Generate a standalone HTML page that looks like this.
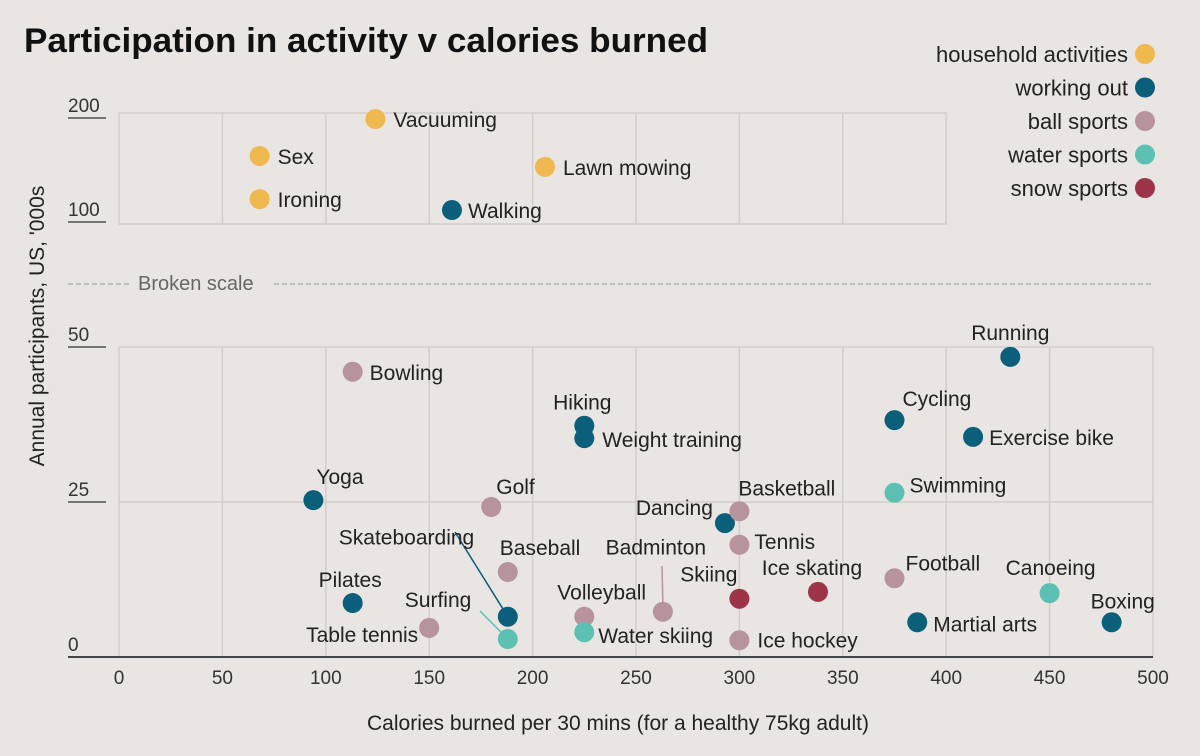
<!DOCTYPE html>
<html><head><meta charset="utf-8"><style>
html,body{margin:0;padding:0;background:#e8e5e3;}
svg{display:block;font-family:"Liberation Sans",sans-serif;}
</style></head><body>
<svg id="chart" width="1200" height="756" viewBox="0 0 1200 756">
<rect width="1200" height="756" fill="#e8e5e3"/>
<text x="24" y="52" font-size="34" font-weight="bold" fill="#111" textLength="684" lengthAdjust="spacingAndGlyphs">Participation in activity v calories burned</text>
<g id="grid"></g><g id="marks"></g><g id="legend"></g>
<text transform="translate(44,326) rotate(-90)" text-anchor="middle" font-size="21" fill="#222">Annual participants, US, '000s</text>
<text x="618" y="730" text-anchor="middle" font-size="21" fill="#222">Calories burned per 30 mins (for a healthy 75kg adult)</text>
</svg>
<script>
const names=["Vacuuming","Sex","Ironing","Lawn mowing","Walking","Running","Bowling","Hiking","Weight training","Cycling","Exercise bike","Yoga","Golf","Swimming","Dancing","Basketball","Tennis","Baseball","Football","Ice skating","Canoeing","Skiing","Pilates","Boxing","Martial arts","Skateboarding","Volleyball","Badminton","Table tennis","Water skiing","Surfing","Ice hockey"];
const calories=[124,68,68,206,161,431,113,225,225,375,413,94,180,375,293,300,300,188,375,338,450,300,113,480,386,188,225,263,150,225,188,300];
const participants=[199,163.5,122,153,111.5,48.4,46,37.3,35.3,38.2,35.5,25.3,24.2,26.5,21.6,23.5,18.1,13.7,12.7,10.5,10.3,9.4,8.7,5.6,5.6,6.5,6.5,7.3,4.7,4,2.9,2.7];
const groups=["h","h","h","h","w","w","b","w","w","w","w","w","b","s","w","b","b","b","b","n","s","n","w","w","w","w","b","b","b","s","s","b"];
const legendLabels=["household activities","working out","ball sports","water sports","snow sports"];
const legendKeys=["h","w","b","s","n"];
const xTicks=[0,50,100,150,200,250,300,350,400,450,500];
const lowTicks=[0,25,50];
const upTicks=[100,200];
const colors={h:"#f0b950",w:"#0b5f7a",b:"#b7949b",s:"#5cc1b3",n:"#9e3447"};
// label placement: [dx, dy, anchor]
const lab={"Vacuuming":[18,8,"start"],"Sex":[18,8,"start"],"Ironing":[18,8,"start"],"Lawn mowing":[18,8,"start"],"Walking":[16,8,"start"],
"Running":[0,-17,"middle"],"Bowling":[17,8,"start"],"Hiking":[-2,-16,"middle"],"Weight training":[18,9,"start"],"Cycling":[8,-14,"start"],
"Exercise bike":[16,8,"start"],"Yoga":[3,-16,"start"],"Golf":[5,-13,"start"],"Swimming":[15,0,"start"],"Dancing":[-12,-8,"end"],
"Basketball":[-1,-16,"start"],"Tennis":[15,4,"start"],"Baseball":[-8,-17,"start"],"Football":[11,-8,"start"],"Ice skating":[-6,-17,"middle"],
"Canoeing":[1,-18,"middle"],"Skiing":[-2,-17,"end"],"Pilates":[-34,-16,"start"],"Boxing":[-21,-14,"start"],"Martial arts":[16,9,"start"],
"Skateboarding":[-169,-72,"start"],"Volleyball":[-27,-17,"start"],"Badminton":[-7,-57,"middle"],"Table tennis":[-11,14,"end"],
"Water skiing":[14,11,"start"],"Surfing":[-103,-32,"start"],"Ice hockey":[18,7,"start"]};
const leaders={"Skateboarding":[455,532],"Badminton":[662,566],"Surfing":[480,611]};
const X=v=>119+v*(1153-119)/500;
const Ylow=v=>657-v*6.2;
const Yup=v=>222-(v-100)*1.04;
const ns="http://www.w3.org/2000/svg";
function mk(tag,attrs,parent){const e=document.createElementNS(ns,tag);for(const k in attrs)e.setAttribute(k,attrs[k]);parent.appendChild(e);return e;}
const grid=document.getElementById('grid'),marks=document.getElementById('marks'),legend=document.getElementById('legend');
let r=mk('rect',{x:X(0),y:113,width:X(400)-X(0),height:111,fill:"none",stroke:"#d2cecb","stroke-width":1.5},grid);


r=mk('rect',{x:X(0),y:Ylow(50),width:X(500)-X(0),height:Ylow(0)-Ylow(50),fill:"none",stroke:"#d2cecb","stroke-width":1.5},grid);


xTicks.forEach(t=>{
  if(t>0&&t<500){let l=mk('line',{x1:X(t),x2:X(t),y1:Ylow(50),y2:Ylow(0),stroke:"#d2cecb","stroke-width":1.5},grid);
  
  
  if(t<400){let u=mk('line',{x1:X(t),x2:X(t),y1:113,y2:224,stroke:"#d2cecb","stroke-width":1.5},grid);
  
  }}
  let tx=mk('text',{x:X(t),y:684,"text-anchor":"middle","font-size":19,fill:"#333"},grid);tx.textContent=t;
  
  
});
lowTicks.forEach(t=>{
  const y=Ylow(t);
  if(t>0&&t<50){let l=mk('line',{x1:X(0),x2:X(500),y1:y,y2:y,stroke:"#d2cecb","stroke-width":1.5},grid);
  
  }
  let tl=mk('line',{x1:68,x2:t===0?1153:106,y1:y,y2:y,stroke:t===0?"#444":"#333","stroke-width":t===0?2:1.3},grid);
  
  
  let tx=mk('text',{x:68,y:y-6,"font-size":19,fill:"#333"},grid);tx.textContent=t;
  
  
});
upTicks.forEach(t=>{
  const y=Yup(t);
  let tl=mk('line',{x1:68,x2:106,y1:y,y2:y,stroke:"#333","stroke-width":1.3},grid);
  
  
  let tx=mk('text',{x:68,y:y-6,"font-size":19,fill:"#333"},grid);tx.textContent=t;
  
  
});
let b1=mk('line',{x1:68,x2:130,y1:284,y2:284,stroke:"#999","stroke-dasharray":"5,3","stroke-width":1},grid);


let b2=mk('line',{x1:274,x2:1153,y1:284,y2:284,stroke:"#999","stroke-dasharray":"5,3","stroke-width":1},grid);


let bt=mk('text',{x:138,y:290,"font-size":20,fill:"#666"},grid);bt.textContent="Broken scale";


names.forEach((n,i)=>{
  const cx=X(calories[i]),v=participants[i],cy=v>=100?Yup(v):Ylow(v);
  if(leaders[n]){const p=leaders[n];let l=mk('line',{x1:p[0],y1:p[1],x2:cx,y2:cy-(n==="Badminton"?8:0),stroke:colors[groups[i]],"stroke-width":1.5},marks);
  
  }
  let c=mk('circle',{cx:cx,cy:cy,r:10,fill:colors[groups[i]]},marks);
  
  
  const L=lab[n];
  let t=mk('text',{x:cx+L[0],y:cy+L[1],"text-anchor":L[2],"font-size":21,fill:"#222"},marks);t.textContent=n;
  
  
});
legendLabels.forEach((s,i)=>{
  const y=54+i*33.5;
  let c=mk('circle',{cx:1145,cy:y,r:10,fill:colors[legendKeys[i]]},legend);
  
  
  let t=mk('text',{x:1128,y:y+8,"text-anchor":"end","font-size":22,fill:"#222"},legend);t.textContent=s;
  
  
});
</script>
</body></html>
